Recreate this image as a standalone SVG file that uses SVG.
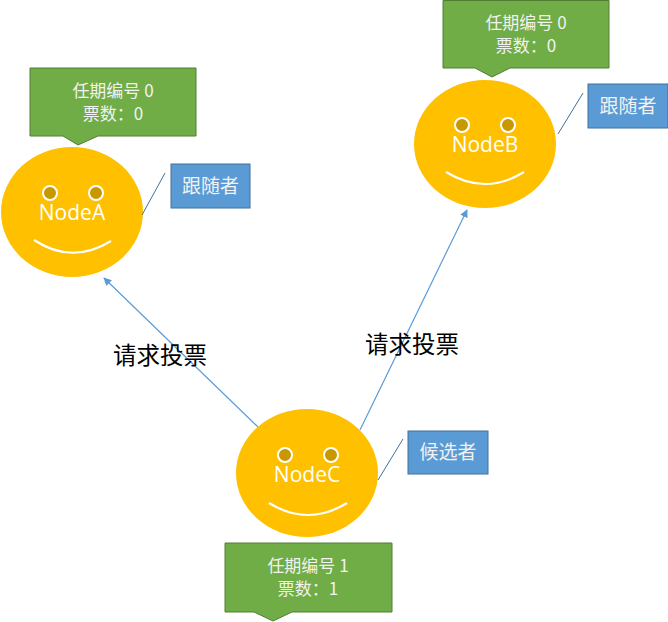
<svg xmlns="http://www.w3.org/2000/svg" width="668" height="622" viewBox="0 0 668 622">
<defs>
<style>
.face{fill:#FFC000}
.eye{fill:#C99700;stroke:#FFFFFF;stroke-width:2}
.smile{fill:none;stroke:#FFFFFF;stroke-width:2.2}
.name{font-family:"Open Sans","Noto Sans",sans-serif;font-size:21px;fill:#FFFFFF;text-anchor:middle}
.green{fill:#70AD47;stroke:#507E32;stroke-width:1}
.blue{fill:#5B9BD5;stroke:#41719C;stroke-width:1}
.ct{font-family:"Noto Sans CJK SC","Noto Sans",sans-serif;font-size:17px;fill:#F2F2F2;text-anchor:middle}
.bt{font-family:"Noto Sans CJK SC","Noto Sans",sans-serif;font-size:19px;fill:#F2F2F2;text-anchor:middle}
.lead{stroke:#41719C;stroke-width:1}
.edge{stroke:#5B9BD5;stroke-width:1.2;fill:none;marker-end:url(#arr)}
.lbl{font-family:"Noto Sans CJK SC",sans-serif;font-size:23.5px;fill:#000000}
</style>
<marker id="arr" viewBox="0 0 10 10" refX="9" refY="5" markerWidth="8" markerHeight="8" markerUnits="userSpaceOnUse" orient="auto">
<path d="M0,0 L10,5 L0,10 z" fill="#5B9BD5"/>
</marker>
</defs>
<rect width="668" height="622" fill="#FFFFFF"/>

<g id="connectors">
<line class="edge" x1="258" y1="427" x2="104" y2="278"/>
<line class="edge" x1="360" y1="430" x2="467" y2="210"/>
<text class="lbl" x="113" y="364">请求投票</text>
<text class="lbl" x="365" y="353">请求投票</text>
</g>

<g id="nodeA">
<ellipse class="face" cx="72" cy="212" rx="71" ry="65"/>
<circle class="eye" cx="50" cy="193" r="7"/>
<circle class="eye" cx="96" cy="193" r="7"/>
<text class="name" x="72" y="220">NodeA</text>
<path class="smile" d="M34,240 Q72,265 111,241"/>
</g>
<g id="calloutA">
<path class="green" d="M30,68 H196 V136 H98 L78,145 L63,136 H30 Z"/>
<text class="ct" x="113" y="97">任期编号 0</text>
<text class="ct" x="113" y="120">票数：0</text>
</g>
<g id="roleA">
<line class="lead" x1="142" y1="215" x2="165" y2="173"/>
<rect class="blue" x="171" y="164" width="79" height="44"/>
<text class="bt" x="210.5" y="193">跟随者</text>
</g>

<g id="nodeB">
<ellipse class="face" cx="485" cy="144" rx="71" ry="64"/>
<circle class="eye" cx="462" cy="125" r="7"/>
<circle class="eye" cx="508" cy="125" r="7"/>
<text class="name" x="485" y="152">NodeB</text>
<path class="smile" d="M446,172 Q485,196 524,172"/>
</g>
<g id="calloutB">
<path class="green" d="M443,0.5 H609 V68 H510 L492,77 L475,68 H443 Z"/>
<text class="ct" x="526" y="29">任期编号 0</text>
<text class="ct" x="526" y="52">票数：0</text>
</g>
<g id="roleB">
<line class="lead" x1="558" y1="134" x2="583" y2="93"/>
<rect class="blue" x="588" y="84" width="80" height="44"/>
<text class="bt" x="628" y="113">跟随者</text>
</g>

<g id="nodeC">
<ellipse class="face" cx="307" cy="473" rx="71" ry="64"/>
<circle class="eye" cx="285" cy="455" r="7"/>
<circle class="eye" cx="331" cy="455" r="7"/>
<text class="name" x="307" y="482">NodeC</text>
<path class="smile" d="M269,503 Q308,527 347,503"/>
</g>
<g id="calloutC">
<path class="green" d="M225,543 H392 V612 H292 L273,621 L254,612 H225 Z"/>
<text class="ct" x="308" y="572">任期编号 1</text>
<text class="ct" x="308" y="595">票数：1</text>
</g>
<g id="roleC">
<line class="lead" x1="378" y1="480" x2="403" y2="439"/>
<rect class="blue" x="408" y="431" width="80" height="43"/>
<text class="bt" x="448" y="459">候选者</text>
</g>
</svg>
